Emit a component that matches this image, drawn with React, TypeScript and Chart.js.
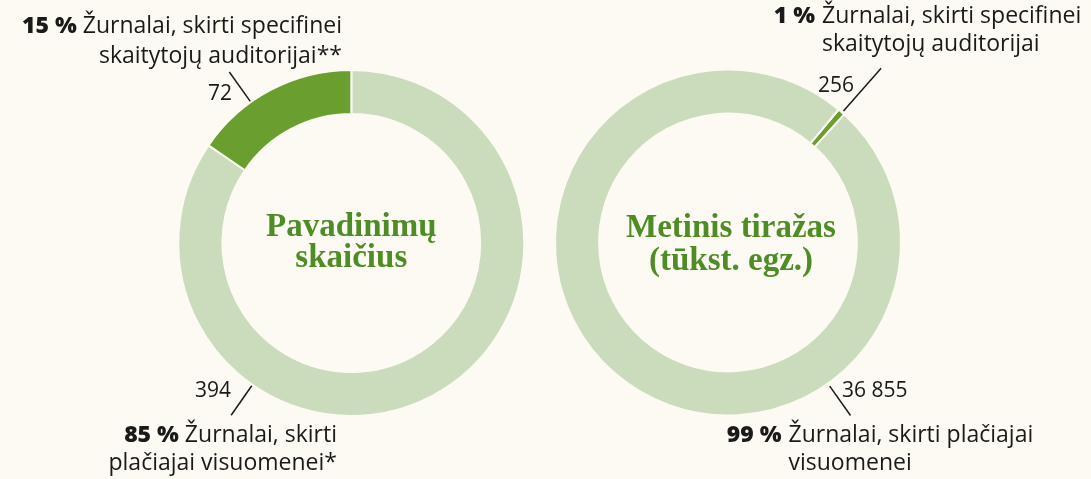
import React, { useEffect, useRef } from "react";
import { Chart, registerables } from "chart.js";

Chart.register(...registerables);

// ---- data ----
const leftTitle = ["Pavadinimų", "skaičius"];
const leftCategories = [
  ["Žurnalai, skirti", "plačiajai visuomenei*"],
  ["Žurnalai, skirti specifinei", "skaitytojų auditorijai**"],
];
const leftValues = [394, 72];

const rightTitle = ["Metinis tiražas", "(tūkst. egz.)"];
const rightCategories = [
  ["Žurnalai, skirti specifinei", "skaitytojų auditorijai"],
  ["Žurnalai, skirti plačiajai", "visuomenei"],
];
const rightValues = [256, 36855];

// ---- styles ----
const BG = "#fdfaf3";
const DARK = "#6a9f30";
const LIGHT = "#cbdcbc";
const TITLE = "#4e8c26";
const INK = "#1a1a1a";
const SANS = "'Open Sans', 'Noto Sans', sans-serif";
const SERIF = "'Liberation Serif', 'DejaVu Serif', serif";

const fmt = (v: number) => String(v).replace(/\B(?=(\d{3})+(?!\d))/g, " ");
const pct = (vals: number[], i: number) =>
  Math.round((vals[i] / vals.reduce((a, b) => a + b, 0)) * 100) + " %";

const leaderPlugin = {
  id: "leaders",
  afterDatasetsDraw(chart: any, _args: any, opts: any) {
    const arc = chart.getDatasetMeta(0).data[0];
    if (!arc) return;
    const { x, y, outerRadius } = arc as any;
    const ctx = chart.ctx;
    ctx.save();
    ctx.strokeStyle = INK;
    ctx.lineWidth = 1.5;
    for (const l of opts.lines || []) {
      const a = ((l.angle - 90) * Math.PI) / 180;
      ctx.beginPath();
      ctx.moveTo(x + Math.cos(a) * (outerRadius + l.from), y + Math.sin(a) * (outerRadius + l.from));
      ctx.lineTo(x + Math.cos(a) * (outerRadius + l.to), y + Math.sin(a) * (outerRadius + l.to));
      ctx.stroke();
    }
    ctx.restore();
  },
};

function Donut(props: {
  values: number[];
  colors: string[];
  labels: string[];
  rotation: number;
  left: number;
  padding: { left: number; right: number; top: number; bottom: number };
  lines: { angle: number; from: number; to: number }[];
}) {
  const ref = useRef<HTMLCanvasElement>(null);
  useEffect(() => {
    if (!ref.current) return;
    const chart = new Chart(ref.current, {
      type: "doughnut",
      data: {
        labels: props.labels,
        datasets: [
          {
            data: props.values,
            backgroundColor: props.colors,
            borderColor: BG,
            borderWidth: 2,
          },
        ],
      },
      options: {
        animation: false,
        responsive: false,
        maintainAspectRatio: false,
        cutout: "74.5%",
        rotation: props.rotation,
        layout: { padding: props.padding },
        plugins: {
          legend: { display: false },
          tooltip: { enabled: false },
          leaders: { lines: props.lines },
        } as any,
      },
      plugins: [leaderPlugin],
    });
    return () => chart.destroy();
  }, []);
  return (
    <canvas
      ref={ref}
      width={480}
      height={479}
      style={{ position: "absolute", left: props.left, top: 0, width: 480, height: 479 }}
    />
  );
}

const textBase: React.CSSProperties = {
  position: "absolute",
  fontFamily: SANS,
  fontSize: 23,
  color: INK,
  whiteSpace: "nowrap",
};

export default function App() {
  return (
    <div
      style={{
        position: "fixed",
        left: 0,
        top: 0,
        width: 1091,
        height: 479,
        background: BG,
        overflow: "hidden",
      }}
    >
      <Donut
        values={leftValues}
        colors={[LIGHT, DARK]}
        labels={leftCategories.map((c) => c.join(" "))}
        rotation={0}
        left={111}
        padding={{ left: 66.3, right: 65.7, top: 69, bottom: 62 }}
        lines={[
          { angle: -35.5, from: 1, to: 37 },
          { angle: 214.9, from: 1, to: 37 },
        ]}
      />
      <Donut
        values={rightValues}
        colors={[DARK, LIGHT]}
        labels={rightCategories.map((c) => c.join(" "))}
        rotation={39.75}
        left={487.5}
        padding={{ left: 66, right: 66, top: 68.5, bottom: 62.5 }}
        lines={[
          { angle: 41.3, from: 2, to: 59 },
          { angle: 144.7, from: 3, to: 39 },
        ]}
      />

      {/* center titles */}
      <div
        style={{
          position: "absolute",
          left: 201.3,
          width: 300,
          top: 209.8,
          textAlign: "center",
          fontFamily: SERIF,
          fontWeight: 700,
          fontSize: 33,
          lineHeight: "31.5px",
          color: TITLE,
        }}
      >
        {leftTitle[0]}
        <br />
        {leftTitle[1]}
      </div>
      <div
        style={{
          position: "absolute",
          left: 581,
          width: 300,
          top: 209.8,
          textAlign: "center",
          fontFamily: SERIF,
          fontWeight: 700,
          fontSize: 33,
          lineHeight: "33px",
          color: TITLE,
        }}
      >
        {rightTitle[0]}
        <br />
        {rightTitle[1]}
      </div>

      {/* left labels */}
      <div style={{ ...textBase, right: 1091 - 342, top: 9.4, lineHeight: "30px", textAlign: "right" }}>
        <span style={{ fontWeight: 800 }}>{pct(leftValues, 1)}</span> {leftCategories[1][0]}
        <br />
        {leftCategories[1][1]}
      </div>
      <div style={{ ...textBase, right: 1091 - 337, top: 418.5, lineHeight: "28.5px", textAlign: "right" }}>
        <span style={{ fontWeight: 800 }}>{pct(leftValues, 0)}</span> {leftCategories[0][0]}
        <br />
        {leftCategories[0][1]}
      </div>
      <div style={{ ...textBase, fontSize: 21, lineHeight: "24px", right: 1091 - 232, top: 79.8 }}>
        {fmt(leftValues[1])}
      </div>
      <div style={{ ...textBase, fontSize: 21, lineHeight: "24px", right: 1091 - 231, top: 377.2 }}>
        {fmt(leftValues[0])}
      </div>

      {/* right labels */}
      <div style={{ ...textBase, left: 822, top: 0, lineHeight: "28.4px" }}>
        <span style={{ position: "absolute", right: "100%", paddingRight: 7, fontWeight: 800 }}>
          {pct(rightValues, 0)}
        </span>
        {rightCategories[0][0]}
        <br />
        {rightCategories[0][1]}
      </div>
      <div style={{ ...textBase, left: 788.5, top: 420, lineHeight: "27.5px" }}>
        <span style={{ position: "absolute", right: "100%", paddingRight: 7, fontWeight: 800 }}>
          {pct(rightValues, 1)}
        </span>
        {rightCategories[1][0]}
        <br />
        {rightCategories[1][1]}
      </div>
      <div style={{ ...textBase, fontSize: 21, lineHeight: "24px", left: 818, top: 71.5 }}>
        {fmt(rightValues[0])}
      </div>
      <div style={{ ...textBase, fontSize: 21, lineHeight: "24px", left: 842, top: 377.2 }}>
        {fmt(rightValues[1])}
      </div>
    </div>
  );
}
